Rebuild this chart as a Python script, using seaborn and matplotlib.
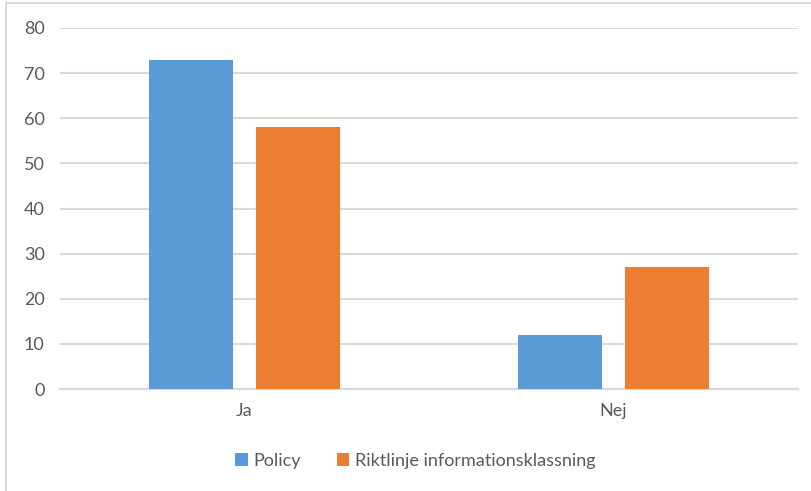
import matplotlib
matplotlib.use("Agg")
import matplotlib.pyplot as plt
from matplotlib.lines import Line2D
from matplotlib.patches import Patch
import seaborn as sns
import pandas as pd

categories = ["Ja", "Nej"]
series_names = ["Policy", "Riktlinje informationsklassning"]
policy_values = [73, 12]
riktlinje_values = [58, 27]
y_ticks = [0, 10, 20, 30, 40, 50, 60, 70, 80]

colors = ["#5B9BD5", "#ED7D31"]
text_color = "#595959"
grid_color = "#D9D9D9"

df = pd.DataFrame({
    "Svar": categories * 2,
    "Serie": [series_names[0]] * len(categories) + [series_names[1]] * len(categories),
    "Antal": policy_values + riktlinje_values,
})

sns.set_theme(style="white")
plt.rcParams["font.family"] = ["Lato", "DejaVu Sans"]

fig = plt.figure(figsize=(8.11, 4.91), dpi=100)
ax = fig.add_axes([60 / 811, 1 - 389 / 491, 738 / 811, 361 / 491])

sns.barplot(data=df, x="Svar", y="Antal", hue="Serie", palette=colors,
            width=0.58, gap=0.22, saturation=1, ax=ax, legend=False,
            edgecolor="none", linewidth=0, zorder=3)

ax.set_xlim(-0.5, 1.5)
ax.set_ylim(0, 80)
ax.set_yticks(y_ticks)
ax.set_yticklabels([str(t) for t in y_ticks])
ax.set_xlabel("")
ax.set_ylabel("")
ax.yaxis.grid(True, color=grid_color, linewidth=1.5, zorder=0)
ax.xaxis.grid(False)
for side in ["top", "right", "left"]:
    ax.spines[side].set_visible(False)
ax.spines["bottom"].set_color(grid_color)
ax.spines["bottom"].set_linewidth(1.5)
ax.spines["bottom"].set_zorder(1)
ax.tick_params(axis="y", length=0, pad=11, labelsize=13, labelcolor=text_color)
ax.tick_params(axis="x", length=0, pad=10, labelsize=13, labelcolor=text_color)

handles = [Patch(facecolor=c, edgecolor="none") for c in colors]
fig.legend(handles, series_names, loc="center", bbox_to_anchor=(415 / 811, 1 - 461 / 491),
           ncol=2, frameon=False, fontsize=13, labelcolor=text_color,
           handlelength=0.7, handleheight=0.7, handletextpad=0.3, columnspacing=2.0)

# Chart frame (top and left edges)
fig.add_artist(Line2D([6 / 811, 6 / 811], [0, 1 - 3 / 491], transform=fig.transFigure,
                      color="#D9D9D9", linewidth=1.5))
fig.add_artist(Line2D([6 / 811, 1], [1 - 3 / 491, 1 - 3 / 491], transform=fig.transFigure,
                      color="#D9D9D9", linewidth=1.5))

fig.savefig("out.png", dpi=100)
